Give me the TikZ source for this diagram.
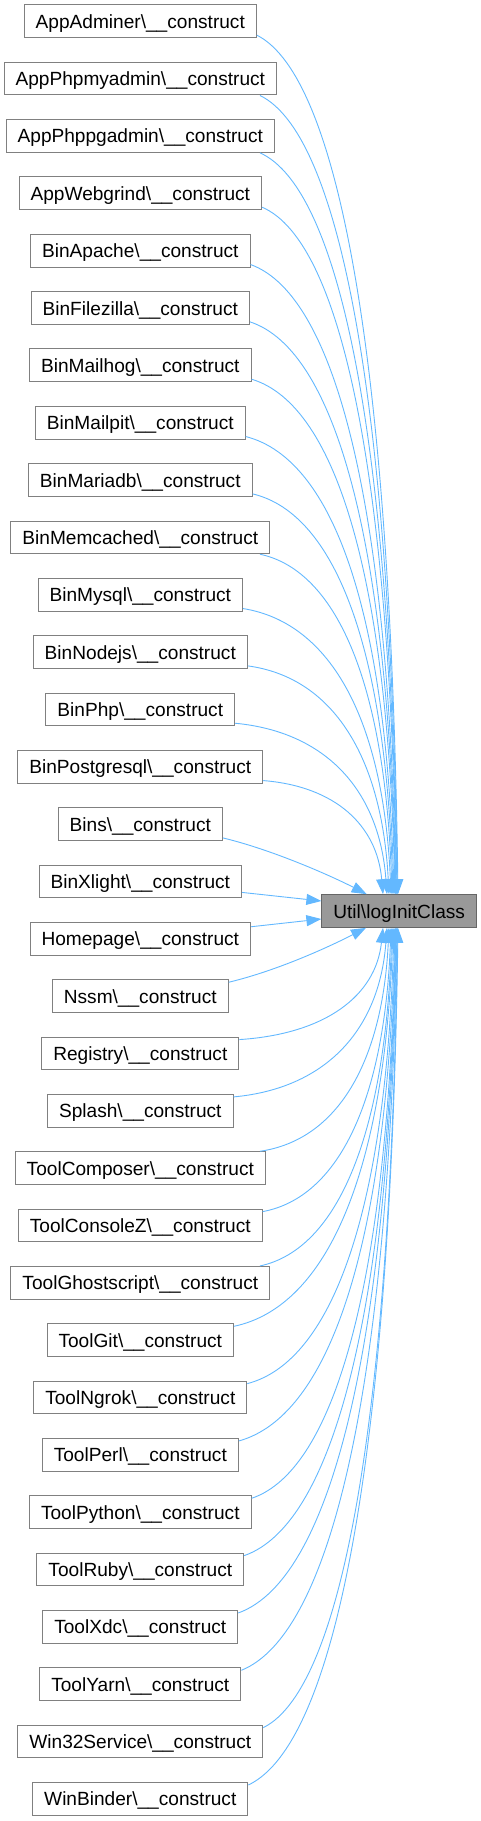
\documentclass[tikz,border=0pt]{standalone}
\usepackage{fontspec}
\setmainfont{Liberation Sans}
\usetikzlibrary{arrows.meta}
\definecolor{edgeblue}{HTML}{63B8FF}
\definecolor{boxline}{HTML}{808080}
\definecolor{centerline}{HTML}{666666}
\definecolor{centerfill}{HTML}{999999}
\begin{document}
\begin{tikzpicture}[x=1pt,y=-1pt,
  box/.style={draw=boxline, line width=1pt, fill=white, inner xsep=11.5pt, inner ysep=0pt,
    minimum height=32.7pt, text height=14pt, text depth=0pt, font=\fontsize{19.1}{22}\selectfont},
  centerbox/.style={box, draw=centerline, fill=centerfill},
  edge/.style={draw=edgeblue, line width=0.9pt, -{Triangle[length=15pt,width=11pt]}}]
\useasboundingbox (0,0) rectangle (480,1821);
\foreach \i/\t in {0/AppAdminer,1/AppPhpmyadmin,2/AppPhppgadmin,3/AppWebgrind,4/BinApache,
  5/BinFilezilla,6/BinMailhog,7/BinMailpit,8/BinMariadb,9/BinMemcached,10/BinMysql,
  11/BinNodejs,12/BinPhp,13/BinPostgresql,14/Bins,15/BinXlight,16/Homepage,17/Nssm,
  18/Registry,19/Splash,20/ToolComposer,21/ToolConsoleZ,22/ToolGhostscript,23/ToolGit,
  24/ToolNgrok,25/ToolPerl,26/ToolPython,27/ToolRuby,28/ToolXdc,29/ToolYarn,
  30/Win32Service,31/WinBinder}
  \node[box] (n\i) at (140.3,{21.3+57.34*\i}) {\t\textbackslash\_\_construct};
\node[centerbox] (c) at (399.2,911) {Util\textbackslash logInitClass};
% edges from upper boxes
\draw[edge] ([yshift=3pt]n0.south east) .. controls +(85.0,43.0) and +(-7.1,-516.0) .. ([xshift=-1.2pt]c.north);
\draw[edge] ([xshift=119.7pt]n1.south) .. controls +(82.5,40.0) and +(-6.9,-479.8) .. ([xshift=-1.7pt]c.north);
\draw[edge] ([xshift=119.7pt]n2.south) .. controls +(82.2,37.1) and +(-6.9,-445.4) .. ([xshift=-2.2pt]c.north);
\draw[edge] ([yshift=3pt]n3.south east) .. controls +(80.9,34.4) and +(-6.7,-412.8) .. ([xshift=-2.7pt]c.north);
\draw[edge] ([yshift=3pt]n4.south east) .. controls +(87.6,31.5) and +(-7.3,-378.4) .. ([xshift=-3.2pt]c.north);
\draw[edge] ([yshift=3pt]n5.south east) .. controls +(87.6,28.7) and +(-7.3,-344.0) .. ([xshift=-3.7pt]c.north);
\draw[edge] ([yshift=3pt]n6.south east) .. controls +(86.4,25.8) and +(-7.2,-309.6) .. ([xshift=-4.2pt]c.north);
\draw[edge] ([yshift=3pt]n7.south east) .. controls +(89.9,22.9) and +(-7.5,-275.2) .. ([xshift=-5.2pt]c.north);
\draw[edge] ([yshift=3pt]n8.south east) .. controls +(84.5,20.1) and +(-7.0,-240.8) .. ([xshift=-6.2pt]c.north);
\draw[edge] ([xshift=119.7pt]n9.south) .. controls +(79.2,17.0) and +(-6.6,-204.6) .. ([xshift=-7.2pt]c.north);
\draw[edge] ([yshift=3pt]n10.south east) .. controls +(89.0,14.3) and +(-7.4,-172.0) .. ([xshift=-8.2pt]c.north);
\draw[edge] ([yshift=3pt]n11.south east) .. controls +(85.0,11.5) and +(-7.1,-137.6) .. ([xshift=-10.2pt]c.north);
\draw[edge] ([yshift=3pt]n12.south east) .. controls +(91.4,8.6) and +(-7.6,-103.2) .. ([xshift=-12.2pt]c.north);
\draw[edge] ([yshift=3pt]n13.south east) .. controls +(72.1,5.7) and +(-6.0,-68.8) .. ([xshift=-16.2pt]c.north);
\draw[edge] ([yshift=3pt]n14.south east) .. controls +(50,12) and +(-35,-18) .. ([xshift=-32.5pt]c.north);
% nearly horizontal edges
\draw[edge] ([yshift=-11pt]n15.east) -- ([yshift=10pt]c.west);
\draw[edge] ([yshift=12pt]n16.east) -- ([yshift=-8pt]c.west);
% edges from lower boxes
\draw[edge] ([yshift=-3pt]n17.north east) .. controls +(50,-12) and +(-35,18) .. ([xshift=-33.2pt]c.south);
\draw[edge] ([yshift=-3pt]n18.north east) .. controls +(86.5,-5.6) and +(-7.2,67.7) .. ([xshift=-16.2pt]c.south);
\draw[edge] ([yshift=-3pt]n19.north east) .. controls +(92.4,-8.5) and +(-7.7,102.1) .. ([xshift=-12.2pt]c.south);
\draw[edge] ([xshift=119.7pt]n20.north) .. controls +(77.4,-11.2) and +(-6.5,134.7) .. ([xshift=-10.2pt]c.south);
\draw[edge] ([yshift=-3pt]n21.north east) .. controls +(76.8,-14.2) and +(-6.4,170.9) .. ([xshift=-8.2pt]c.south);
\draw[edge] ([xshift=119.7pt]n22.north) .. controls +(79.2,-17.0) and +(-6.6,203.5) .. ([xshift=-7.2pt]c.south);
\draw[edge] ([yshift=-3pt]n23.north east) .. controls +(95.0,-20.0) and +(-7.9,239.7) .. ([xshift=-6.2pt]c.south);
\draw[edge] ([yshift=-3pt]n24.north east) .. controls +(87.7,-22.8) and +(-7.3,274.1) .. ([xshift=-5.2pt]c.south);
\draw[edge] ([yshift=-3pt]n25.north east) .. controls +(93.4,-25.7) and +(-7.8,308.5) .. ([xshift=-4.2pt]c.south);
\draw[edge] ([yshift=-3pt]n26.north east) .. controls +(86.0,-28.6) and +(-7.2,342.9) .. ([xshift=-3.7pt]c.south);
\draw[edge] ([yshift=-3pt]n27.north east) .. controls +(90.8,-31.4) and +(-7.6,377.3) .. ([xshift=-3.2pt]c.south);
\draw[edge] ([yshift=-3pt]n28.north east) .. controls +(94.6,-34.3) and +(-7.9,411.7) .. ([xshift=-2.7pt]c.south);
\draw[edge] ([yshift=-3pt]n29.north east) .. controls +(92.7,-37.2) and +(-7.7,446.1) .. ([xshift=-2.2pt]c.south);
\draw[edge] ([yshift=-3pt]n30.north east) .. controls +(80.9,-40.0) and +(-6.7,480.5) .. ([xshift=-1.7pt]c.south);
\draw[edge] ([yshift=-3pt]n31.north east) .. controls +(90.1,-42.9) and +(-7.5,514.9) .. ([xshift=-1.2pt]c.south);
\end{tikzpicture}
\end{document}
